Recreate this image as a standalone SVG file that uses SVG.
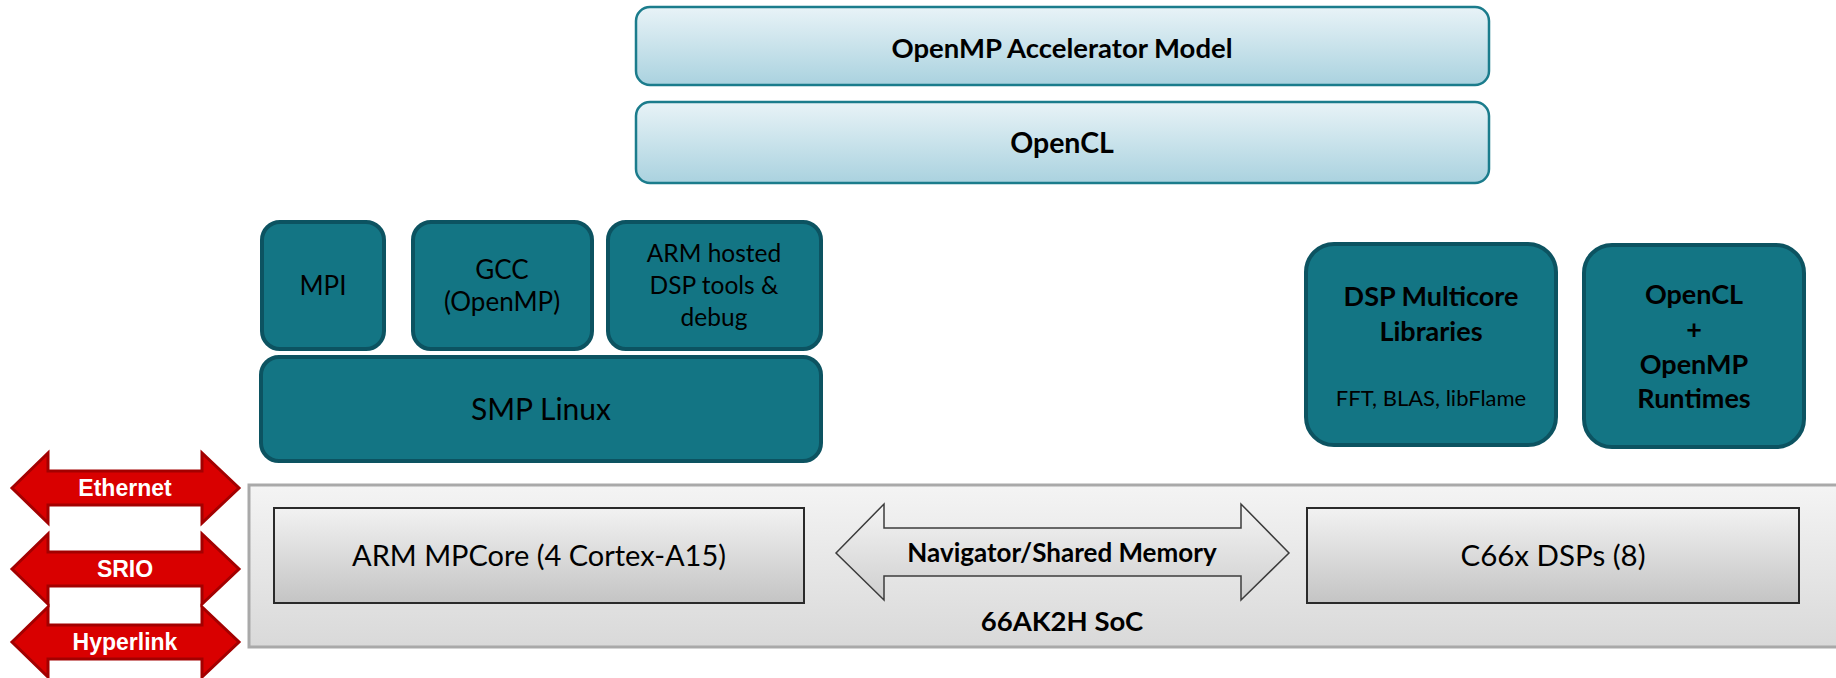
<svg xmlns="http://www.w3.org/2000/svg" width="1836" height="678" viewBox="0 0 1836 678">
<defs>
  <linearGradient id="gBlue" x1="0" y1="0" x2="0" y2="1">
    <stop offset="0" stop-color="#e8f3f7"/>
    <stop offset="1" stop-color="#aad2df"/>
  </linearGradient>
  <linearGradient id="gSoc" x1="0" y1="0" x2="0" y2="1">
    <stop offset="0" stop-color="#f4f4f4"/>
    <stop offset="1" stop-color="#d9d9d9"/>
  </linearGradient>
  <linearGradient id="gCore" x1="0" y1="0" x2="0" y2="1">
    <stop offset="0" stop-color="#f2f2f2"/>
    <stop offset="1" stop-color="#c4c4c4"/>
  </linearGradient>
  <linearGradient id="gNav" x1="0" y1="0" x2="0" y2="1">
    <stop offset="0" stop-color="#f4f4f4"/>
    <stop offset="1" stop-color="#cfcfcf"/>
  </linearGradient>
</defs>
<style>
  .top { fill: url(#gBlue); stroke: #1b7c8c; stroke-width: 2.5; }
  .teal { fill: #137584; stroke: #0c5361; stroke-width: 4; }
  .soc { fill: url(#gSoc); stroke: #a9a9a9; stroke-width: 3; }
  .core { fill: url(#gCore); stroke: #2a2a2a; stroke-width: 2; }
  .nav { fill: url(#gNav); stroke: #3c3c3c; stroke-width: 1.5; }
  .red { fill: #d90000; stroke: #a30000; stroke-width: 3; stroke-linejoin: miter; }
  text { font-family: Lato, "Liberation Sans", sans-serif; fill: #000; text-anchor: middle; }
  .b { font-weight: bold; }
  .lbl { font-family: "Liberation Sans", Arial, sans-serif; font-weight: bold; fill: #fff; font-size: 23px; }
</style>

<g id="openmp-accel">
  <rect class="top" x="636" y="7" width="853" height="78" rx="14"/>
  <text class="b" x="1062" y="58" font-size="27.5">OpenMP Accelerator Model</text>
</g>
<g id="opencl-top">
  <rect class="top" x="636" y="102" width="853" height="81" rx="14"/>
  <text class="b" x="1062" y="153" font-size="28.5">OpenCL</text>
</g>

<g id="mpi">
  <rect class="teal" x="262" y="222" width="122" height="127" rx="18"/>
  <text x="323" y="295" font-size="26">MPI</text>
</g>
<g id="gcc">
  <rect class="teal" x="413" y="222" width="179" height="127" rx="18"/>
  <text x="502" y="279" font-size="26">GCC</text>
  <text x="502" y="311" font-size="26">(OpenMP)</text>
</g>
<g id="arm-tools">
  <rect class="teal" x="608" y="222" width="213" height="127" rx="18"/>
  <text x="714" y="262" font-size="24.5">ARM hosted</text>
  <text x="714" y="294" font-size="24.5">DSP tools &amp;</text>
  <text x="714" y="326" font-size="24.5">debug</text>
</g>
<g id="smp-linux">
  <rect class="teal" x="261" y="357" width="560" height="104" rx="18"/>
  <text x="541" y="420" font-size="30">SMP Linux</text>
</g>
<g id="dsp-libs">
  <rect class="teal" x="1306" y="244" width="250" height="201" rx="28"/>
  <text class="b" x="1431" y="306" font-size="27">DSP Multicore</text>
  <text class="b" x="1431" y="341" font-size="27">Libraries</text>
  <text x="1431" y="406" font-size="22">FFT, BLAS, libFlame</text>
</g>
<g id="runtimes">
  <rect class="teal" x="1584" y="245" width="220" height="202" rx="28"/>
  <text class="b" x="1694" y="304" font-size="27">OpenCL</text>
  <text class="b" x="1694" y="339" font-size="27">+</text>
  <text class="b" x="1694" y="374" font-size="27">OpenMP</text>
  <text class="b" x="1694" y="408" font-size="27">Runtimes</text>
</g>

<g id="soc">
  <rect class="soc" x="249" y="485" width="1600" height="162"/>
  <text class="b" x="1062" y="631" font-size="27.5">66AK2H SoC</text>
</g>
<g id="arm-mpcore">
  <rect class="core" x="274" y="508" width="530" height="95"/>
  <text x="539" y="566" font-size="29">ARM MPCore (4 Cortex-A15)</text>
</g>
<g id="c66x">
  <rect class="core" x="1307" y="508" width="492" height="95"/>
  <text x="1553" y="566" font-size="29.5">C66x DSPs (8)</text>
</g>

<g id="connectors">
  <g id="navigator">
    <polygon class="nav" points="836,553 884,504 884,528 1241,528 1241,504 1289,553 1241,600 1241,576 884,576 884,600"/>
    <text class="b" x="1062" y="562" font-size="26">Navigator/Shared Memory</text>
  </g>
  <g id="ethernet">
    <polygon class="red" points="12,488 48,453 48,471 202,471 202,453 239,488 202,523 202,505 48,505 48,523"/>
    <text class="lbl" x="125" y="496">Ethernet</text>
  </g>
  <g id="srio">
    <polygon class="red" points="12,569 48,534 48,552 202,552 202,534 239,569 202,604 202,586 48,586 48,604"/>
    <text class="lbl" x="125" y="577">SRIO</text>
  </g>
  <g id="hyperlink">
    <polygon class="red" points="12,642 48,607 48,625 202,625 202,607 239,642 202,677 202,659 48,659 48,677"/>
    <text class="lbl" x="125" y="650">Hyperlink</text>
  </g>
</g>
</svg>
